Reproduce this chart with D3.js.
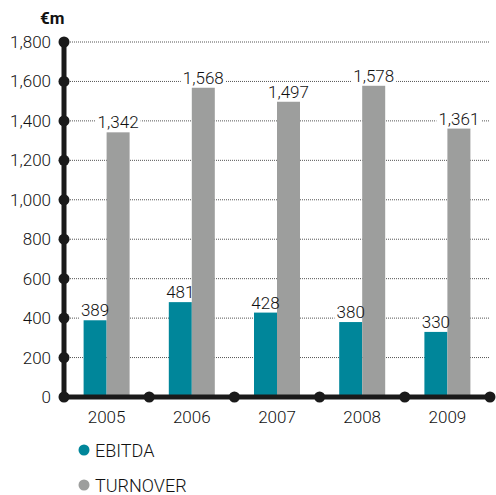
<!DOCTYPE html>
<html>
<head>
<meta charset="utf-8">
<script src="https://cdn.jsdelivr.net/npm/d3@7"></script>
<style>
  html, body { margin: 0; padding: 0; background: #fff; }
  svg text { font-family: "Roboto", "Liberation Sans Narrow", "DejaVu Sans Condensed", sans-serif; font-weight: 300; fill: #111; }
</style>
</head>
<body>
<svg id="chart" width="496" height="495"></svg>
<script>
const years = ["2005", "2006", "2007", "2008", "2009"];
const ebitda = [389, 481, 428, 380, 330];
const turnover = [1342, 1568, 1497, 1578, 1361];
const yTicks = [0, 200, 400, 600, 800, 1000, 1200, 1400, 1600, 1800];
const seriesNames = ["EBITDA", "TURNOVER"];
const seriesColors = ["#00869a", "#9d9e9d"];

(function drawChart() {
  const svg = d3.select("#chart");
  const plotLeft = 64, plotRight = 490, plotTop = 42, plotBottom = 397;

  const x = d3.scaleBand().domain(years).range([plotLeft, plotRight]).paddingInner(0).paddingOuter(0);
  const inner = d3.scaleBand().domain(seriesNames).range([0, 46]);
  const y = d3.scaleLinear().domain([0, 1800]).range([plotBottom, plotTop]);
  const fmt = d3.format(",");
  const series = [ebitda, turnover];

  // dotted gridlines
  svg.append("g").selectAll("line").data(yTicks.filter(d => d > 0)).join("line")
    .attr("x1", plotLeft).attr("x2", plotRight)
    .attr("y1", d => y(d)).attr("y2", d => y(d))
    .attr("stroke", "#555").attr("stroke-width", 1).attr("stroke-dasharray", "1,1");

  const groupX = d => x(d) + (x.bandwidth() - 46) / 2;
  const backLayer = svg.append("g");
  const barLayer = svg.append("g");
  const textLayer = svg.append("g");

  seriesNames.forEach((name, si) => {
    years.forEach((yr, i) => {
      const v = series[si][i];
      const bx = groupX(yr) + inner(name);
      barLayer.append("rect")
        .attr("x", bx).attr("width", inner.bandwidth())
        .attr("y", y(v)).attr("height", y(0) - y(v))
        .attr("fill", seriesColors[si]);
      // value label, with a white patch that breaks the gridline behind it
      const t = textLayer.append("text")
        .attr("x", bx + inner.bandwidth() / 2).attr("y", y(v) - 4)
        .attr("text-anchor", "middle")
        .attr("font-size", 17)
        .text(fmt(v));
      const bb = t.node().getBBox();
      backLayer.append("rect")
        .attr("x", bb.x - 2).attr("y", bb.y + 2)
        .attr("width", bb.width + 4).attr("height", bb.height - 3)
        .attr("fill", "#fff");
    });
  });

  // axes
  const axisColor = "#1a1a1a";
  svg.append("line").attr("x1", plotLeft).attr("x2", plotLeft).attr("y1", y(1800)).attr("y2", y(0))
    .attr("stroke", axisColor).attr("stroke-width", 5);
  svg.append("line").attr("x1", plotLeft).attr("x2", plotRight).attr("y1", y(0)).attr("y2", y(0))
    .attr("stroke", axisColor).attr("stroke-width", 5);
  svg.append("g").selectAll("circle").data(yTicks).join("circle")
    .attr("cx", plotLeft).attr("cy", d => y(d)).attr("r", 5.5).attr("fill", axisColor);
  svg.append("g").selectAll("circle").data(years).join("circle")
    .attr("cx", d => x(d) + x.bandwidth()).attr("cy", y(0)).attr("r", 5.5).attr("fill", axisColor);

  // tick labels
  svg.append("g").selectAll("text").data(yTicks).join("text")
    .attr("x", 51).attr("y", d => y(d) + 6)
    .attr("text-anchor", "end").attr("font-size", 17)
    .text(d => fmt(d));
  svg.append("g").selectAll("text").data(years).join("text")
    .attr("x", d => x(d) + x.bandwidth() / 2).attr("y", 423)
    .attr("text-anchor", "middle").attr("font-size", 17)
    .text(d => d);

  // unit
  svg.append("text").attr("x", 40).attr("y", 24).attr("font-size", 17)
    .style("font-weight", "bold").text("€m");

  // legend
  seriesNames.forEach((name, i) => {
    const ly = 450 + i * 35;
    svg.append("circle").attr("cx", 84).attr("cy", ly).attr("r", 5.5).attr("fill", seriesColors[i]);
    svg.append("text").attr("x", 95).attr("y", ly + 7).attr("font-size", 18).text(name);
  });
})();
</script>
</body>
</html>
